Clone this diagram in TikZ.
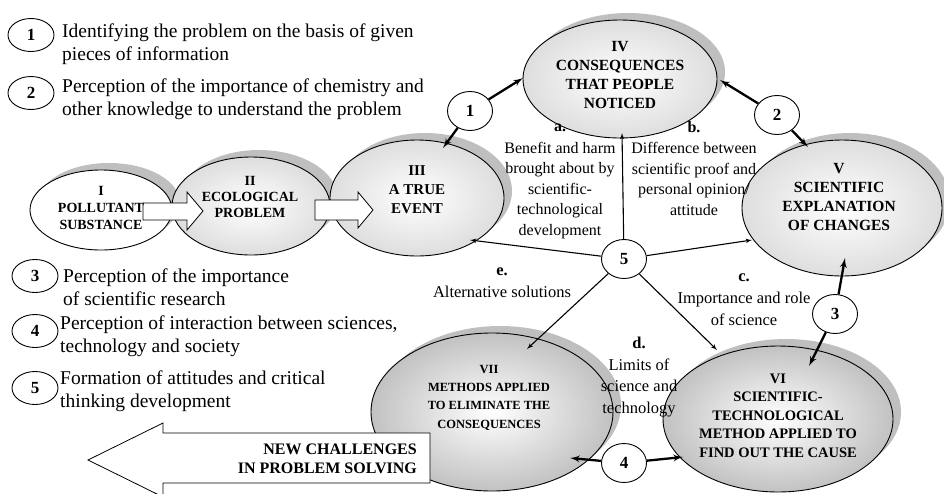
\documentclass[tikz,border=0pt]{standalone}
\usepackage{fontspec}
\setmainfont{Liberation Serif}
\usetikzlibrary{arrows,calc,shapes.geometric,shadows}

\begin{document}
\begin{tikzpicture}[x=1pt,y=-1pt]
    \tikzset{stage/.style = {shape=ellipse,draw,line width=0.9pt,inner sep=0,
        drop shadow={shadow xshift=8pt,shadow yshift=7pt,fill=gray!50,opacity=1}}}
    \tikzset{pale/.style = {stage,inner color=white,outer color=gray!26}}
    \tikzset{deep/.style = {stage,inner color=white,outer color=gray!48}}
    \tikzset{caps/.style = {anchor=base,align=center,inner sep=0}}
    \tikzset{num/.style = {shape=ellipse,draw,fill=white,line width=0.9pt,inner sep=0,
        minimum width=45pt,minimum height=39pt,font=\bfseries\fontsize{17}{17}\selectfont}}
    \tikzset{key/.style = {num,minimum width=46pt,minimum height=33pt}}
    \tikzset{legend/.style = {anchor=base west,align=left,inner sep=0,font=\fontsize{19.5}{23}\selectfont}}
    \tikzset{note/.style = {anchor=base,align=center,inner sep=0,font=\fontsize{16}{20.5}\selectfont}}
    \tikzset{push/.style = {draw,fill=white,line width=0.8pt,line join=miter}}
    \tikzset{edge/.style = {->,> = latex',line width=1.1pt}}
    \tikzset{heavy/.style = {->,> = latex',line width=2.3pt}}
    \useasboundingbox (0,0) rectangle (944,493);

    % legend (base = last line)
    \node[key] (k1) at (31,35) {1};
    \node[legend] (l1) at (62,60) {Identifying the problem on the basis of given\\pieces of information};
    \node[key] (k2) at (31,93) {2};
    \node[legend] (l2) at (62,115) {Perception of the importance of chemistry and\\other knowledge to understand the problem};
    \node[key] (k3) at (35,276) {3};
    \node[legend] (l3) at (63,305) {Perception of the importance\\of scientific research};
    \node[key] (k4) at (35,331) {4};
    \node[legend] (l4) at (60,352) {Perception of interaction between sciences,\\technology and society};
    \node[key] (k5) at (35,388) {5};
    \node[legend] (l5) at (60,407) {Formation of attitudes and critical\\thinking development};

    % stages
    \node[stage,fill=white,minimum width=142pt,minimum height=80pt] (pI) at (101,210) {};
    \node[pale,minimum width=158pt,minimum height=98pt] (pII) at (251,206) {};
    \node[pale,minimum width=174pt,minimum height=116pt] (pIII) at (417,198) {};
    \node[pale,minimum width=194pt,minimum height=118pt] (pIV) at (620,79) {};
    \node[pale,minimum width=200pt,minimum height=136pt] (pV) at (842,208) {};
    \node[deep,minimum width=230pt,minimum height=146pt] (pVI) at (778,419) {};
    \node[deep,minimum width=242pt,minimum height=158pt] (pVII) at (492,412) {};

    \draw[push] (143,203) -- (187,203) -- (187,192) -- (203,211) -- (187,230) -- (187,220) -- (143,220) -- cycle;
    \draw[push] (315,200) -- (358,200) -- (358,192) -- (373,210) -- (358,228) -- (358,220) -- (315,220) -- cycle;

    \node[caps,font=\bfseries\fontsize{14}{17}\selectfont] (tI) at (101,229) {I\\POLLUTANT\\SUBSTANCE};
    \node[caps,font=\bfseries\fontsize{14}{16}\selectfont] (tII) at (250,217) {II\\ECOLOGICAL\\PROBLEM};
    \node[caps,font=\bfseries\fontsize{15}{19}\selectfont] (tIII) at (417,213) {III\\A TRUE\\EVENT};
    \node[caps,font=\bfseries\fontsize{15.5}{18.7}\selectfont] (tIV) at (620,108) {IV\\CONSEQUENCES\\THAT PEOPLE\\NOTICED};
    \node[caps,font=\bfseries\fontsize{15.5}{18.7}\selectfont] (tV) at (839,230) {V\\SCIENTIFIC\\EXPLANATION\\OF CHANGES};
    \node[caps,font=\bfseries\fontsize{14.5}{18.5}\selectfont] (tVI) at (778,457) {VI\\SCIENTIFIC-\\TECHNOLOGICAL\\METHOD APPLIED TO\\FIND OUT THE CAUSE};
    \node[caps,font=\bfseries\fontsize{12.5}{18.3}\selectfont] (tVII) at (489,428) {VII\\METHODS APPLIED\\TO ELIMINATE THE\\CONSEQUENCES};

    % numbered links
    \node[num] (n1) at (470,111) {1};
    \node[num] (n2) at (777,115) {2};
    \node[num] (n3) at (835,314) {3};
    \node[num] (n4) at (624,463) {4};
    \node[num] (n5) at (624,259) {5};

    \draw[heavy] (n1) to ($(pIII.center)+(26,-50)$);
    \draw[heavy] (n1) to ($(pIV.center)+(-97,-1)$);
    \draw[heavy] (n2) to ($(pIV.center)+(100,1)$);
    \draw[heavy] (n2) to ($(pV.center)+(-34,-61)$);
    \draw[heavy] (n3) to ($(pV.center)+(3,50)$);
    \draw[heavy] (n3) to ($(pVI.center)+(31,-53)$);
    \draw[heavy] (n4) to ($(pVII.center)+(78,46)$);
    \draw[heavy] (n4) to ($(pVI.center)+(-95,38)$);

    \draw[edge] (n5) to ($(pIV.center)+(2,54)$);
    \draw[edge] (n5) to ($(pIII.center)+(53,42)$);
    \draw[edge] (n5) to ($(pV.center)+(-90,32)$);
    \draw[edge] (n5) to ($(pVII.center)+(35,-63)$);
    \draw[edge] (n5) to ($(pVI.center)+(-61,-69)$);

    \node[note] (a) at (560,235) {\textbf{a.}\\[1pt]Benefit and harm\\brought about by\\scientific-\\technological\\development};
    \node[note] (b) at (694,215) {\textbf{b.}\\[1pt]Difference between\\scientific proof and\\personal opinion/\\attitude};
    \node[note,font=\fontsize{16.5}{22}\selectfont] (c) at (744,325) {\textbf{c.}\\Importance and role\\of science};
    \node[note,font=\fontsize{16.5}{21.5}\selectfont] (d) at (639,413) {\textbf{d.}\\Limits of\\science and\\technology};
    \node[note,font=\fontsize{16.5}{22}\selectfont] (e) at (502,297) {\textbf{e.}\\Alternative solutions};

    % way out
    \draw[push] (88,460) -- (163,423) -- (163,433) -- (430,433) -- (430,483) -- (163,483) -- (163,497) -- cycle;
    \node[anchor=base east,align=right,inner sep=0,font=\bfseries\fontsize{16}{19}\selectfont] (w) at (417,473) {NEW CHALLENGES\\IN PROBLEM SOLVING};
\end{tikzpicture}
\end{document}
